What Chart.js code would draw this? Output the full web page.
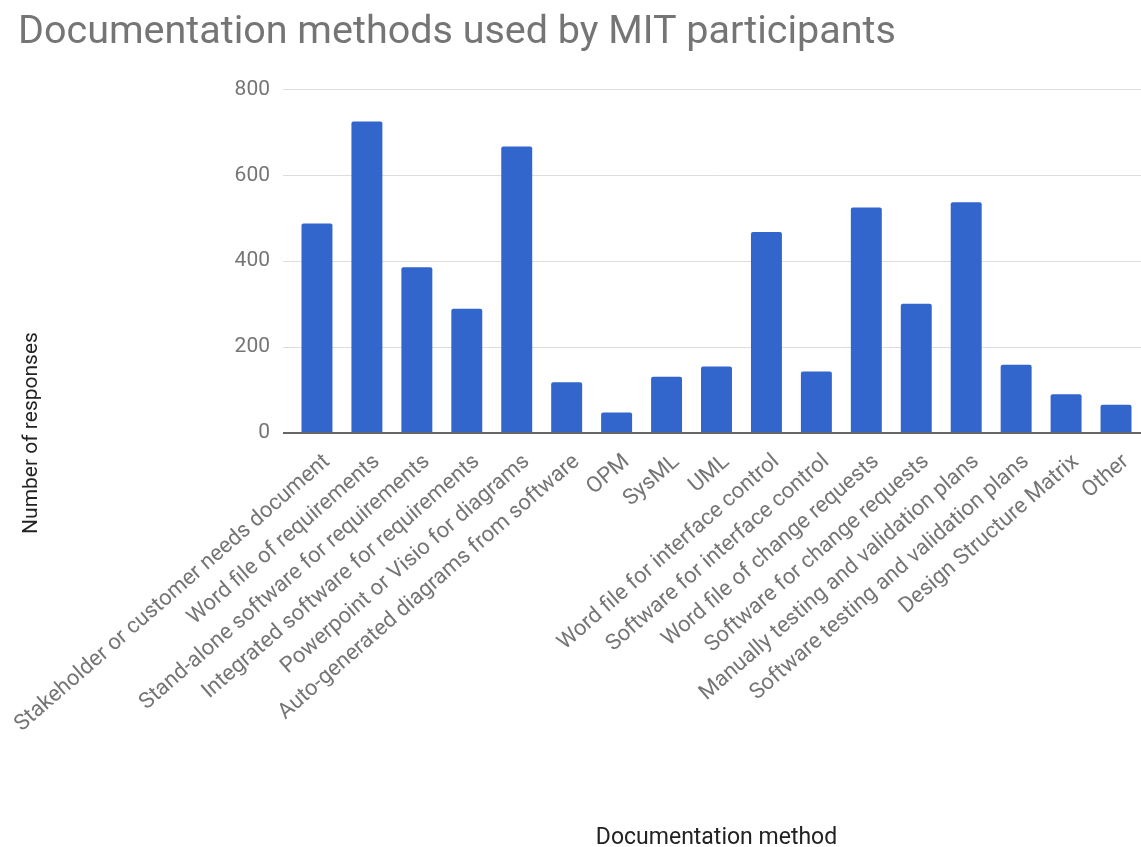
<!DOCTYPE html>
<html lang="en">
<head>
  <meta charset="UTF-8">
  <title>Documentation methods used by MIT participants</title>
  <style>
    html, body { margin: 0; padding: 0; background: #fff; }
    #wrap { width: 1141px; height: 847px; }
  </style>
</head>
<body>
  <div id="wrap"><canvas id="myChart"></canvas></div>
  <script src="https://cdn.jsdelivr.net/npm/chart.js"></script>
  <script>
    // survey answers, one bar per documentation method
    const methods = [
      'Stakeholder or customer needs document',
      'Word file of requirements',
      'Stand-alone software for requirements',
      'Integrated software for requirements',
      'Powerpoint or Visio for diagrams',
      'Auto-generated diagrams from software',
      'OPM',
      'SysML',
      'UML',
      'Word file for interface control',
      'Software for interface control',
      'Word file of change requests',
      'Software for change requests',
      'Manually testing and validation plans',
      'Software testing and validation plans',
      'Design Structure Matrix',
      'Other'
    ];
    const responses = [488, 725, 386, 289, 667, 118, 48, 131, 155, 468, 143, 525, 301, 537, 159, 90, 66];
    const yTicks = [0, 200, 400, 600, 800];

    const grey = '#757575';
    const dark = '#222222';
    const face = 'Roboto';

    // axis titles sit outside the plot box (y one centred on the baseline,
    // x one near the bottom edge), so they are drawn by hand
    const axisTitles = {
      id: 'axisTitles',
      afterDraw(chart) {
        const c = chart.ctx;
        const area = chart.chartArea;
        c.save();
        c.fillStyle = dark;
        c.textAlign = 'center';
        c.textBaseline = 'middle';
        c.font = '23px ' + face;
        c.fillText('Documentation method', (area.left + area.right) / 2, chart.height - 9);
        c.translate(32, area.bottom);
        c.rotate(-Math.PI / 2);
        c.font = '21px ' + face;
        c.fillText('Number of responses', 0, 0);
        c.restore();
      }
    };

    const ctx = document.getElementById('myChart');

    new Chart(ctx, {
      type: 'bar',
      data: {
        labels: methods,
        datasets: [{
          label: 'Number of responses',
          data: responses,
          backgroundColor: '#3366cc',
          borderRadius: { topLeft: 2, topRight: 2 },
          barPercentage: 0.62,
          categoryPercentage: 1
        }]
      },
      plugins: [axisTitles],
      options: {
        responsive: true,
        maintainAspectRatio: false,
        animation: false,
        layout: { padding: { left: 18, right: 0, top: 0, bottom: 0 } },
        plugins: {
          legend: { display: false },
          tooltip: { enabled: false },
          title: {
            display: true,
            text: 'Documentation methods used by MIT participants',
            align: 'start',
            color: grey,
            font: { family: face, size: 39.5, weight: 'normal' },
            padding: { top: 9, bottom: 33 }
          }
        },
        scales: {
          x: {
            z: 1,
            grid: { display: false },
            border: { display: true, color: '#666666', width: 2 },
            ticks: {
              color: grey,
              font: { family: face, size: 22 },
              minRotation: 41,
              maxRotation: 41,
              autoSkip: false,
              padding: 8,
              labelOffset: 10
            },
            afterFit: (s) => {
              s.height = 414;
              s.paddingLeft = 0;
              s.paddingRight = 0;
            }
          },
          y: {
            min: 0,
            max: 800,
            afterBuildTicks: (s) => { s.ticks = yTicks.map(v => ({ value: v })); },
            grid: {
              color: (c) => c.tick && c.tick.value === 0 ? '#666666' : '#dddddd',
              lineWidth: (c) => c.tick && c.tick.value === 0 ? 2 : 1,
              drawTicks: true,
              tickLength: 9
            },
            border: { display: false },
            ticks: {
              color: grey,
              font: { family: face, size: 21 },
              padding: 13
            },
            afterFit: (s) => { s.width = 274; }
          }
        }
      }
    });
  </script>
</body>
</html>
